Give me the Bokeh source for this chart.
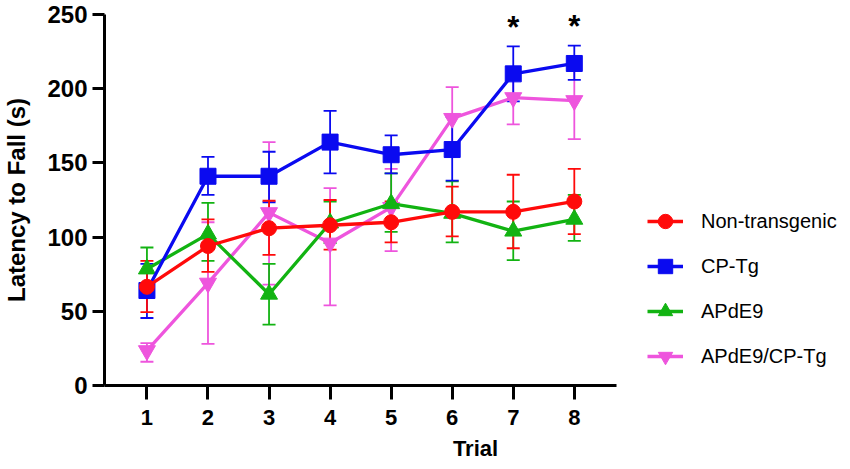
from bokeh.plotting import figure
from bokeh.models import (ColumnDataSource, Whisker, TeeHead, Legend, LegendItem,
                          FixedTicker, Range1d)
from bokeh.core.properties import value
from bokeh.embed import file_html
from bokeh.resources import INLINE

# ---------------- data ----------------
trials = [1, 2, 3, 4, 5, 6, 7, 8]
x_ticks = [1, 2, 3, 4, 5, 6, 7, 8]
y_ticks = [0, 50, 100, 150, 200, 250]

non_tg = [66.5, 94, 106, 108, 110, 117, 117, 124]
non_tg_lo = [49.5, 76.5, 88, 91.5, 96.5, 100.5, 92.5, 102]
non_tg_hi = [84, 112, 124.5, 125, 124, 134, 142, 146]

cp_tg = [64, 141, 141, 164, 155.5, 159, 210, 217]
cp_tg_lo = [45.5, 128.5, 123.5, 143, 143, 138, 191.5, 206]
cp_tg_hi = [82, 154, 157.5, 185, 168.5, 181, 228.5, 229]

apde9 = [78.5, 102, 61.5, 109.5, 122.5, 116, 104, 112]
apde9_lo = [64, 84, 41, 96, 103.5, 96.5, 84.5, 97.5]
apde9_hi = [93, 123, 82, 124, 143, 137.5, 124, 128.5]

apde9_cp = [23.5, 69, 116.5, 96, 120, 180, 194, 192]
apde9_cp_lo = [16, 28, 68, 54, 90.5, 160, 176, 166]
apde9_cp_hi = [28.5, 110, 164, 133, 146, 201, 213, 218]

sig_trials = [7, 8]
series_names = ["Non-transgenic", "CP-Tg", "APdE9", "APdE9/CP-Tg"]

# ---------------- layout ----------------
W, H = 850, 469
LEFT, RIGHT, TOP, BOTTOM = 100, 4, 14, 84
AXIS_W = 515                      # visible x-axis length in px
X0, X1 = 0.305, 8.695             # visible x-axis span (data units)
frame_w = W - LEFT - RIGHT
x_end = X0 + frame_w * (X1 - X0) / AXIS_W   # extend frame to hold legend

FONT = "Liberation Sans"
p = figure(width=W, height=H, output_backend="svg", toolbar_location=None,
           x_range=Range1d(X0, x_end), y_range=Range1d(0, 250),
           min_border_left=LEFT, min_border_right=RIGHT, min_border_top=TOP,
           min_border_bottom=BOTTOM)
p.outline_line_color = None
p.xgrid.grid_line_color = None
p.ygrid.grid_line_color = None
p.background_fill_color = "white"
p.border_fill_color = "white"

for ax in (p.xaxis[0], p.yaxis[0]):
    ax.axis_line_width = 3
    ax.axis_line_color = "black"
    ax.major_tick_line_width = 3
    ax.major_tick_line_color = "black"
    ax.minor_tick_line_color = None
    ax.major_tick_in = 0
    ax.major_label_text_font = FONT
    ax.major_label_text_font_style = "bold"
    ax.major_label_text_color = "black"
    ax.axis_label_text_font = FONT
    ax.axis_label_text_font_style = "bold"
    ax.axis_label_text_color = "black"

p.xaxis.bounds = (X0, X1)
p.xaxis.ticker = FixedTicker(ticks=x_ticks)
p.yaxis.ticker = FixedTicker(ticks=y_ticks)
p.xaxis.major_tick_out = 14
p.yaxis.major_tick_out = 12
p.xaxis.major_label_standoff = 10
p.yaxis.major_label_standoff = 5
p.xaxis.major_label_text_font_size = "22px"
p.yaxis.major_label_text_font_size = "24px"
p.xaxis.axis_label = "Trial"
p.yaxis.axis_label = "Latency to Fall (s)"
p.xaxis.axis_label_text_font_size = "22px"
p.yaxis.axis_label_text_font_size = "24px"
p.xaxis.axis_label_standoff = 8
p.yaxis.axis_label_standoff = 14

specs = [
    # name, mean, lo, hi, color, marker, size
    ("APdE9/CP-Tg", apde9_cp, apde9_cp_lo, apde9_cp_hi, "#EE55DD", "inverted_triangle", 17),
    ("APdE9", apde9, apde9_lo, apde9_hi, "#12B312", "triangle", 17),
    ("CP-Tg", cp_tg, cp_tg_lo, cp_tg_hi, "#0A0AF0", "square", 16),
    ("Non-transgenic", non_tg, non_tg_lo, non_tg_hi, "#FF0A0A", "circle", 15),
]

items = {}
for name, mean, lo, hi, color, marker, size in specs:
    src = ColumnDataSource(dict(x=trials, y=mean, lower=lo, upper=hi))
    w = Whisker(base="x", upper="upper", lower="lower", source=src,
                line_color=color, line_width=1.8,
                upper_head=TeeHead(size=13, line_color=color, line_width=1.8),
                lower_head=TeeHead(size=13, line_color=color, line_width=1.8))
    p.add_layout(w)
    lr = p.line("x", "y", source=src, line_color=color, line_width=3.3)
    sr = p.scatter("x", "y", source=src, marker=marker, size=size,
                   fill_color=color, line_color=color)
    items[name] = LegendItem(label=name, renderers=[lr, sr])

# significance asterisks above CP-Tg error bars
sig_y = [cp_tg_hi[trials.index(t)] + 13 for t in sig_trials]
p.text(x=sig_trials, y=sig_y, text=["*"] * len(sig_trials),
       text_font=value(FONT), text_font_style="bold", text_font_size="31px",
       text_align="center", text_baseline="middle", text_color="black")

legend = Legend(items=[items[n] for n in series_names], location=(543, 11),
                glyph_width=36, glyph_height=36, label_height=36,
                label_standoff=18, spacing=9, padding=0, margin=0,
                border_line_color=None, background_fill_alpha=0,
                label_text_font=FONT, label_text_font_size="20px",
                label_text_color="black")
p.add_layout(legend)

open("out.html", "w").write(file_html(p, INLINE))
